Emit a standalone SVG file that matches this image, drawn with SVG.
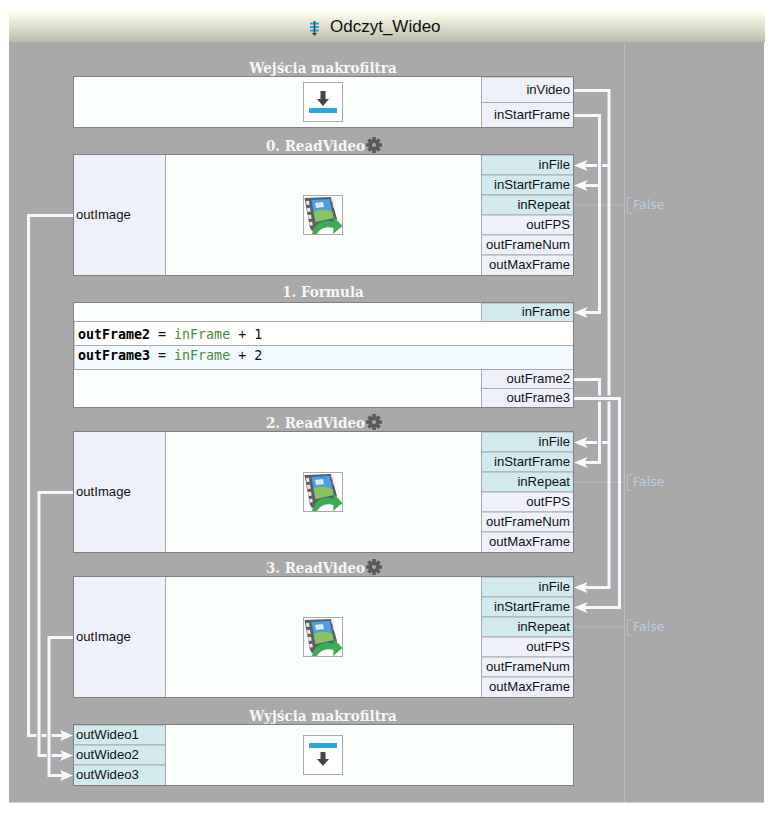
<svg xmlns="http://www.w3.org/2000/svg" width="774" height="816" viewBox="0 0 774 816">
<style>
.box{fill:#fbfffb;stroke:#808080;stroke-width:1}
.in{fill:#d2e9ee;stroke:#aaa;stroke-width:1}
.out{fill:#eff1fa;stroke:#aaa;stroke-width:1}
.lb{font:13.150px "Liberation Sans",Arial,sans-serif;fill:#111}
.r{text-anchor:end}
.ttl{font-family:"DejaVu Serif","Liberation Serif",serif;font-weight:bold;font-size:15px;font-stretch:condensed;fill:#f6f6f6;text-anchor:middle}
.te{text-anchor:end}
.code{font:13.3px "DejaVu Sans Mono","Liberation Mono",monospace;fill:#111;white-space:pre}
.code .b{font-weight:bold;fill:#000}
.code .v{fill:#4f8a3c}
.ic{fill:#fff;stroke:#aaa;stroke-width:1}
.cn{fill:none;stroke:#f5f7ff;stroke-width:3}
.thin{fill:none;stroke:#bcbcbc;stroke-width:1}
.fv{font:12.500px "DejaVu Sans",Verdana,sans-serif;fill:#b7cde3}
</style>
<defs>
<linearGradient id="hd" x1="0" y1="0" x2="0" y2="1"><stop offset="0" stop-color="#fffff0"/><stop offset="1" stop-color="#bcbcac"/></linearGradient>
<path id="al" d="M0 0L13.500 -5.500L10.500 0L13.500 5.500Z" fill="#f8f9ff"/>
<path id="ar" d="M0 0L-13 -5.500L-10 0L-13 5.500Z" fill="#f8f9ff"/>
<g id="gear"><circle r="5.800" fill="#5a5a5a"/><path d="M-1.800 -8H1.800V8H-1.800ZM-8 -1.800H8V1.800H-8ZM-6.800 -4.200L-4.200 -6.800L6.800 4.200L4.200 6.800ZM4.200 -6.800L6.800 -4.200L-4.200 6.800L-6.800 4.200Z" fill="#5a5a5a"/><circle r="2" fill="#a9a9a9"/></g>
<g id="film">
<rect x="0.500" y="0.500" width="39" height="39" class="ic"/>
<path d="M1.500 3L28 2L34 24L30 30L9 36L7 33Z" fill="#5d6062"/>
<path d="M8.500 5L26.500 4L30.500 23L12.500 27Z" fill="#4d9fe4"/>
<path d="M12 8L20 7L21 12L13 13Z" fill="#d5e9f9"/>
<path d="M10.500 17C16 14 23 14 29.500 17L30.500 23L12.500 27Z" fill="#8cc164"/>
<path d="M3 6l3 -.3l.6 4l-3 .3zM4 13l3 -.3l.6 4l-3 .3zM5 20l3 -.3l.6 4l-3 .3zM6.200 27l3 -.3l.6 3.500l-3 .3z" fill="#e8e8e8"/>
<path d="M28 3.500h2.500l.6 3h-2.500zM29.500 9.500h2.500l.6 3h-2.500z" fill="#e8e8e8"/>
<path d="M9 39C11 28 21 23 31 27L30 21L39.500 31L30 39L30.500 33C24 31 17 33 14 39Z" fill="#3aad55"/>
</g>
</defs>

<rect x="8" y="11" width="758" height="793" fill="#fffff0"/>
<rect x="9" y="42" width="755" height="760.500" fill="#a9a9a9"/>
<rect x="9" y="12" width="756" height="30" fill="url(#hd)"/>
<g id="title">
<path d="M310 22.500h9v2h-9zM310 26h9v2h-9zM310 29.500h9v2h-9z" fill="#29a3dc"/>
<path d="M313.700 21h1.600v12h2l-2.800 3l-2.800-3h2z" fill="#444"/>
<text x="330" y="32" style="font:17px 'Liberation Sans',Arial,sans-serif;fill:#111">Odczyt_Wideo</text>
</g>
<path class="thin" d="M624.500 44V802"/>

<g id="node-inputs">
<text class="ttl" x="323" y="73">Wejścia makrofiltra</text>
<rect class="box" x="73.500" y="76.500" width="500" height="51"/>
<rect class="out" x="481.500" y="77" width="92" height="25.500"/><rect class="out" x="481.500" y="102.500" width="92" height="25"/>
<rect class="box" x="73.500" y="76.500" width="500" height="51" style="fill:none"/>
<text class="lb r" x="570" y="94">inVideo</text><text class="lb r" x="570" y="119">inStartFrame</text>
<rect class="ic" x="303.500" y="82.500" width="39" height="39"/>
<path d="M320.500 91h5v8h3.500l-6 7l-6-7h3.500z" fill="#444"/>
<rect x="309" y="108" width="28" height="5" fill="#29a8e0"/>
</g>

<g id="node-0">
<text class="ttl te" x="365" y="151">0. ReadVideo</text>
<use href="#gear" x="374" y="145"/>
<rect class="box" x="73.500" y="154.500" width="500" height="121"/>
<rect class="out" x="73.500" y="154.500" width="92" height="121"/>
<rect class="in" x="481.500" y="155" width="92" height="20"/><rect class="in" x="481.500" y="175" width="92" height="20"/><rect class="in" x="481.500" y="195" width="92" height="20"/>
<rect class="out" x="481.500" y="215" width="92" height="20"/><rect class="out" x="481.500" y="235" width="92" height="20"/><rect class="out" x="481.500" y="255" width="92" height="20.500"/>
<rect class="box" x="73.500" y="154.500" width="500" height="121" style="fill:none"/>
<text class="lb" x="76" y="219">outImage</text>
<text class="lb r" x="570" y="169">inFile</text><text class="lb r" x="570" y="189">inStartFrame</text><text class="lb r" x="570" y="209">inRepeat</text><text class="lb r" x="570" y="229">outFPS</text><text class="lb r" x="570" y="249">outFrameNum</text><text class="lb r" x="570" y="269">outMaxFrame</text>
<use href="#film" x="303" y="195"/>
</g>

<g id="node-1">
<text class="ttl" x="323" y="297">1. Formula</text>
<rect class="box" x="73.500" y="302.500" width="500" height="105"/>
<rect class="in" x="481.500" y="303" width="92" height="18.500"/>
<rect x="74" y="321.500" width="499.500" height="24" fill="#fff" stroke="#aaa"/>
<rect x="74" y="345.500" width="499.500" height="24" fill="#f3faff" stroke="#aaa"/>
<rect class="out" x="481.500" y="369.500" width="92" height="19"/><rect class="out" x="481.500" y="388.500" width="92" height="19"/>
<rect class="box" x="73.500" y="302.500" width="500" height="105" style="fill:none"/>
<text class="lb r" x="570" y="316">inFrame</text><text class="lb r" x="570" y="383">outFrame2</text><text class="lb r" x="570" y="402">outFrame3</text>
<text class="code" x="78" y="339"><tspan class="b">outFrame2</tspan> = <tspan class="v">inFrame</tspan> + 1</text>
<text class="code" x="78" y="360"><tspan class="b">outFrame3</tspan> = <tspan class="v">inFrame</tspan> + 2</text>
</g>

<g id="node-2">
<text class="ttl te" x="365" y="428">2. ReadVideo</text>
<use href="#gear" x="374" y="422"/>
<rect class="box" x="73.500" y="431.500" width="500" height="121"/>
<rect class="out" x="73.500" y="431.500" width="92" height="121"/>
<rect class="in" x="481.500" y="432" width="92" height="20"/><rect class="in" x="481.500" y="452" width="92" height="20"/><rect class="in" x="481.500" y="472" width="92" height="20"/>
<rect class="out" x="481.500" y="492" width="92" height="20"/><rect class="out" x="481.500" y="512" width="92" height="20"/><rect class="out" x="481.500" y="532" width="92" height="20.500"/>
<rect class="box" x="73.500" y="431.500" width="500" height="121" style="fill:none"/>
<text class="lb" x="76" y="496">outImage</text>
<text class="lb r" x="570" y="446">inFile</text><text class="lb r" x="570" y="466">inStartFrame</text><text class="lb r" x="570" y="486">inRepeat</text><text class="lb r" x="570" y="506">outFPS</text><text class="lb r" x="570" y="526">outFrameNum</text><text class="lb r" x="570" y="546">outMaxFrame</text>
<use href="#film" x="303" y="472"/>
</g>

<g id="node-3">
<text class="ttl te" x="365" y="573">3. ReadVideo</text>
<use href="#gear" x="374" y="567"/>
<rect class="box" x="73.500" y="576.500" width="500" height="121"/>
<rect class="out" x="73.500" y="576.500" width="92" height="121"/>
<rect class="in" x="481.500" y="577" width="92" height="20"/><rect class="in" x="481.500" y="597" width="92" height="20"/><rect class="in" x="481.500" y="617" width="92" height="20"/>
<rect class="out" x="481.500" y="637" width="92" height="20"/><rect class="out" x="481.500" y="657" width="92" height="20"/><rect class="out" x="481.500" y="677" width="92" height="20.500"/>
<rect class="box" x="73.500" y="576.500" width="500" height="121" style="fill:none"/>
<text class="lb" x="76" y="641">outImage</text>
<text class="lb r" x="570" y="591">inFile</text><text class="lb r" x="570" y="611">inStartFrame</text><text class="lb r" x="570" y="631">inRepeat</text><text class="lb r" x="570" y="651">outFPS</text><text class="lb r" x="570" y="671">outFrameNum</text><text class="lb r" x="570" y="691">outMaxFrame</text>
<use href="#film" x="303" y="617"/>
</g>

<g id="node-outputs">
<text class="ttl" x="323" y="721">Wyjścia makrofiltra</text>
<rect class="box" x="73.500" y="724.500" width="500" height="61"/>
<rect class="in" x="73.500" y="725" width="92" height="20"/><rect class="in" x="73.500" y="745" width="92" height="20"/><rect class="in" x="73.500" y="765" width="92" height="20.500"/>
<rect class="box" x="73.500" y="724.500" width="500" height="61" style="fill:none"/>
<text class="lb" x="76" y="739">outWideo1</text><text class="lb" x="76" y="759">outWideo2</text><text class="lb" x="76" y="779">outWideo3</text>
<rect class="ic" x="303.500" y="735.500" width="39" height="39"/>
<rect x="309" y="743" width="28" height="5" fill="#29a8e0"/>
<path d="M320.500 752h5v7h3.500l-6 7l-6-7h3.500z" fill="#444"/>
</g>

<g id="false-values">
<path class="thin" d="M574 205H626M632 197.500H627.500V213.500H632"/><text class="fv" x="633" y="209">False</text>
<path class="thin" d="M574 482H626M632 474.500H627.500V490.500H632"/><text class="fv" x="633" y="486">False</text>
<path class="thin" d="M574 627H626M632 619.500H627.500V635.500H632"/><text class="fv" x="633" y="631">False</text>
</g>

<g id="connectors">
<path class="cn" d="M574 90.500H609V395.500M609 401.500V587.500H584"/>
<path class="cn" d="M609 165.500H602M597 165.500H584"/>
<path class="cn" d="M609 442.500H602M597 442.500H584"/>
<path class="cn" d="M574 115.500H599.500V312.500H584"/>
<path class="cn" d="M599.500 185.500H584"/>
<path class="cn" d="M574 379.500H599.500V395.500M599.500 401.500V462.500H584"/>
<path class="cn" d="M574 398.500H619.500V607.500H584"/>
<use href="#al" x="574" y="165.500"/><use href="#al" x="574" y="185.500"/><use href="#al" x="574" y="312.500"/><use href="#al" x="574" y="442.500"/><use href="#al" x="574" y="462.500"/><use href="#al" x="574" y="587.500"/><use href="#al" x="574" y="607.500"/>
<path class="cn" d="M73 215.500H28.500V735.500H36.500M41.500 735.500H46.500M51.500 735.500H63"/>
<path class="cn" d="M73 492.500H39V755.500H46.500M51.500 755.500H63"/>
<path class="cn" d="M73 637.500H49V775.500H63"/>
<use href="#ar" x="73" y="735.500"/><use href="#ar" x="73" y="755.500"/><use href="#ar" x="73" y="775.500"/>
</g>
</svg>
